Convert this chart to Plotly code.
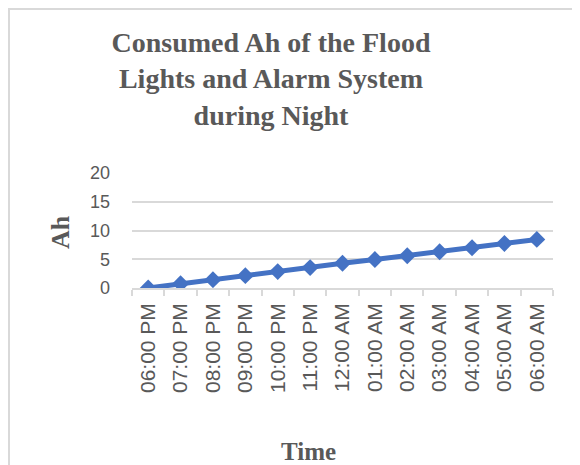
import plotly.graph_objects as go

times = ["06:00 PM", "07:00 PM", "08:00 PM", "09:00 PM", "10:00 PM", "11:00 PM",
         "12:00 AM", "01:00 AM", "02:00 AM", "03:00 AM", "04:00 AM", "05:00 AM", "06:00 AM"]
consumed_ah = [0, 0.75, 1.45, 2.15, 2.85, 3.55, 4.3, 4.95, 5.6, 6.3, 7.0, 7.75, 8.45]
y_ticks = [0, 5, 10, 15, 20]

W, H = 580, 465
OFF = 8  # page body margin
L, R, T, B = 132 - OFF, 553 - OFF, 173 - OFF, 288 - OFF
pw, ph = R - L, B - T

def px(x):
    return (x - OFF - L) / pw

def py(y):
    return (B - (y - OFF)) / ph

grey = "#595959"
line_grey = "#d9d9d9"
blue = "#4472C4"

fig = go.Figure()
fig.add_trace(go.Scatter(
    x=times, y=consumed_ah, mode="lines+markers",
    line=dict(color=blue, width=5),
    marker=dict(symbol="diamond", size=13, color=blue),
    showlegend=False,
))

fig.update_layout(
    width=W, height=H,
    margin=dict(l=L, r=W - R, t=T, b=H - B),
    paper_bgcolor="white", plot_bgcolor="white",
    title=dict(
        text="<b>Consumed Ah of the Flood<br>Lights and Alarm System<br>during Night</b>",
        font=dict(family="Liberation Serif", size=28, color=grey),
        x=(271 - OFF) / W, xanchor="center", xref="container",
        y=1 - (52 - OFF) / H, yanchor="top", yref="container",
    ),
    xaxis=dict(
        type="category", tickson="boundaries", ticks="outside", ticklen=6,
        tickcolor=line_grey, tickwidth=1.5,
        showline=True, linecolor=line_grey, linewidth=1.5,
        showgrid=False, tickangle=-90,
        tickfont=dict(family="Liberation Sans", size=21, color=grey),
        ticklabelstandoff=5,
        range=[-0.5, len(times) - 0.5],
    ),
    yaxis=dict(
        range=[0, 20], tickvals=y_ticks, showgrid=True, gridcolor=line_grey, gridwidth=1.5,
        zeroline=False, showline=False, ticks="",
        tickfont=dict(family="Liberation Sans", size=18, color=grey),
        ticklabelstandoff=21,
    ),
    annotations=[
        dict(text="<b>Ah</b>", xref="paper", yref="paper", x=px(60), y=py(232),
             textangle=-90, showarrow=False, xanchor="center", yanchor="middle",
             font=dict(family="Liberation Serif", size=26, color=grey)),
        dict(text="<b>Time</b>", xref="paper", yref="paper", x=px(308), y=py(451),
             showarrow=False, xanchor="center", yanchor="middle",
             font=dict(family="Liberation Serif", size=25, color=grey)),
    ],
    shapes=[
        dict(type="rect", xref="paper", yref="paper",
             x0=px(9), x1=px(600), y0=py(485), y1=py(9),
             line=dict(color=line_grey, width=2), fillcolor="rgba(0,0,0,0)", layer="below"),
    ],
)

fig.write_html("out.html")
